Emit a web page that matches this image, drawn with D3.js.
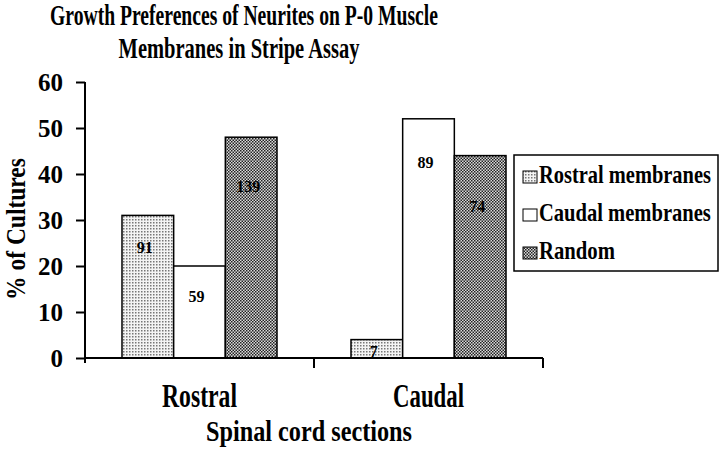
<!DOCTYPE html>
<html><head><meta charset="utf-8">
<script src="https://cdn.jsdelivr.net/npm/d3@7"></script>
<style>html,body{margin:0;padding:0;background:#fff;} svg{display:block;}</style>
</head><body>
<svg id="chart" width="720" height="452"></svg>
<script>
const categories = ["Rostral", "Caudal"];
const seriesNames = ["Rostral membranes", "Caudal membranes", "Random"];
const rostralMembranes = [31, 4];
const caudalMembranes = [20, 52];
const randomValues = [48, 44];
const countLabels = [[91, 59, 139], [7, 89, 74]];
const labelAnchors = [[22.8, 12.2, 36.1], [0.3, 41.3, 31.7]];
const yTicks = [0, 10, 20, 30, 40, 50, 60];
const titleLines = ["Growth Preferences of Neurites on P-0 Muscle", "Membranes in Stripe Assay"];
const xTitle = "Spinal cord sections";
const yTitle = "% of Cultures";

const svg = d3.select("#chart");
const FONT = "'Liberation Serif','Times New Roman',serif";

function fitText(sel, x, y, width, anchor, rotate) {
  const w = sel.node().getComputedTextLength();
  const sx = width / w;
  sel.attr("text-anchor", anchor)
     .attr("transform", "translate(" + x + "," + y + ")" + (rotate ? " rotate(" + rotate + ")" : "") + " scale(" + sx + ",1)");
  return sel;
}
function addText(parent, txt, size) {
  return parent.append("text").attr("font-family", FONT).attr("font-weight", "bold")
    .attr("font-size", size).attr("fill", "#000").text(txt);
}

const defs = svg.append("defs");
const p1 = defs.append("pattern").attr("id","dots").attr("patternUnits","userSpaceOnUse").attr("width",3).attr("height",3);
p1.append("rect").attr("width",3).attr("height",3).attr("fill","#f4f4f4");
p1.append("rect").attr("width",1.5).attr("height",1.5).attr("fill","#777");
const p2 = defs.append("pattern").attr("id","checks").attr("patternUnits","userSpaceOnUse").attr("width",3).attr("height",3);
p2.append("rect").attr("width",3).attr("height",3).attr("fill","#dadada");
p2.append("rect").attr("width",1.5).attr("height",1.5).attr("fill","#222");
p2.append("rect").attr("x",1.5).attr("y",1.5).attr("width",1.5).attr("height",1.5).attr("fill","#222");
const fills = ["url(#dots)", "#fff", "url(#checks)"];

const y = d3.scaleLinear().domain([0,60]).range([358,82]);
const x = d3.scaleBand().domain(categories).range([85,543]).paddingInner(0).paddingOuter(0);
const bw = x.bandwidth();
const xs = d3.scaleBand().domain(seriesNames).range([37, bw-37]).padding(0);

const data = categories.map((c,i)=>({cat:c, vals:[rostralMembranes[i], caudalMembranes[i], randomValues[i]]}));

const g = svg.append("g");
data.forEach((d,ci)=>{
  d.vals.forEach((v,si)=>{
    g.append("rect")
      .attr("x", x(d.cat)+xs(seriesNames[si]))
      .attr("y", y(v))
      .attr("width", xs.bandwidth())
      .attr("height", y(0)-y(v))
      .attr("fill", fills[si]).attr("stroke","#000").attr("stroke-width",1.5);
    addText(g, countLabels[ci][si], 16)
      .attr("x", x(d.cat)+xs(seriesNames[si])+xs.bandwidth()/2-3)
      .attr("y", y(labelAnchors[ci][si]))
      .attr("text-anchor","middle");
  });
});

const yAxis = d3.axisLeft(y).tickValues(yTicks).tickSize(9).tickSizeOuter(0).tickPadding(13);
const ya = svg.append("g").attr("transform","translate(85,0)").call(yAxis);
ya.select(".domain").attr("stroke","#000").attr("stroke-width",2).attr("d","M0,"+y(60)+"V"+(y(0)+5));
ya.selectAll(".tick line").attr("stroke","#000").attr("stroke-width",2);
ya.selectAll(".tick text").attr("font-family",FONT).attr("font-weight","bold").attr("font-size",25).attr("fill","#000").attr("dy","0.35em");

const xa = svg.append("g");
xa.append("line").attr("x1",x.range()[0]).attr("x2",x.range()[1]).attr("y1",y(0)).attr("y2",y(0)).attr("stroke","#000").attr("stroke-width",2);
categories.forEach((c,i)=>{
  const bx = x(c)+bw;
  xa.append("line").attr("x1",bx).attr("x2",bx).attr("y1",y(0)).attr("y2",y(0)+10).attr("stroke","#000").attr("stroke-width",2);
  fitText(addText(xa, c, 34), x(c)+bw/2, 407, i===0?75:71, "middle");
});

fitText(addText(svg, titleLines[0], 29), 244, 25, 388, "middle");
fitText(addText(svg, titleLines[1], 29), 239, 58, 241, "middle");
fitText(addText(svg, xTitle, 29), 309, 441, 206, "middle");
fitText(addText(svg, yTitle, 28), 25, 229, 142, "middle", -90);

const lg = svg.append("g");
lg.append("rect").attr("x",514).attr("y",155).attr("width",204).attr("height",116).attr("fill","#fff").attr("stroke","#000").attr("stroke-width",1.5);
const legW = [172, 172, 76];
seriesNames.forEach((s,i)=>{
  const by = 183 + i*38;
  lg.append("rect").attr("x",523).attr("y",by-12).attr("width",14).attr("height",12)
    .attr("fill",fills[i]).attr("stroke","#000").attr("stroke-width",1);
  fitText(addText(lg, s, 25), 539, by, legW[i], "start");
});
</script>
</body></html>
